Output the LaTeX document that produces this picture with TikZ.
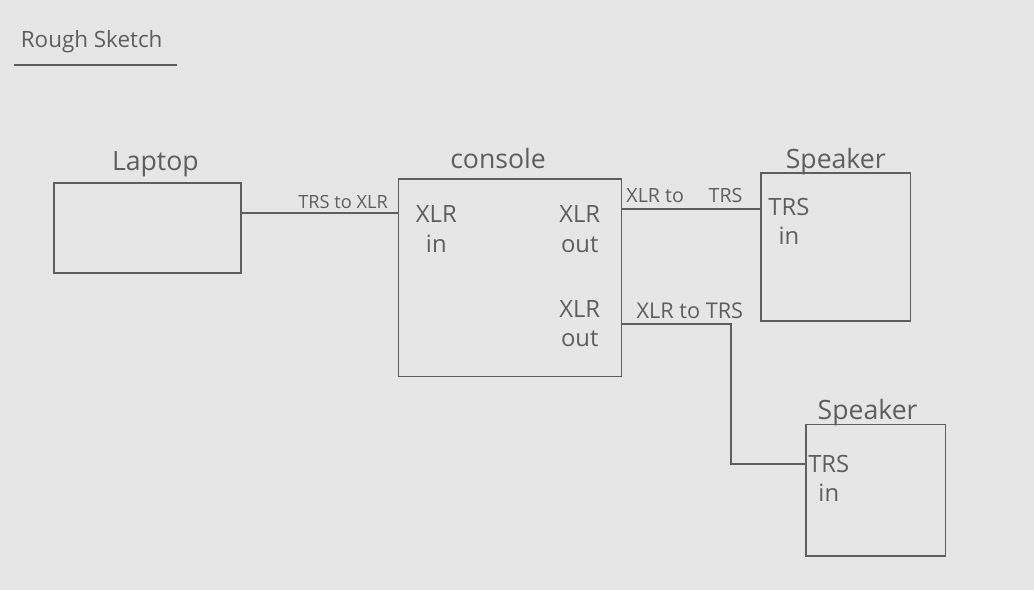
\documentclass[tikz,border=0pt]{standalone}
\usepackage{fontspec}
\setmainfont{Open Sans}
\usepackage{tikz}
\usetikzlibrary{positioning,calc}
\definecolor{paper}{HTML}{E6E6E6}
\definecolor{ink}{HTML}{5E5E5E}
\tikzset{
  device/.style = {draw=ink, line width=1.2pt, inner sep=0pt},
  wire/.style   = {draw=ink, line width=1.1pt},
  tag/.style    = {font=\fontsize{19}{22}\selectfont, text=ink, inner sep=1pt},
  port/.style   = {font=\fontsize{17}{21}\selectfont, text=ink, align=center, inner sep=1pt},
  cbl/.style    = {font=\fontsize{13}{15}\selectfont, text=ink, inner sep=1pt},
}

\begin{document}
\begin{tikzpicture}[x=0.025cm, y=-0.025cm]
  \fill[paper] (-2,-2) rectangle (1036,590);
  \useasboundingbox (0,0) rectangle (1034,588);
  % heading
  \node[tag, font=\fontsize{16}{19}\selectfont] (ttl) at (90,40) {Rough Sketch};
  \draw[wire] (12,63) -- (176,63);
  % devices
  \node[device, minimum width=4.7cm, minimum height=2.25cm] (laptop) at (146,227) {};
  \node[device, minimum width=5.6cm, minimum height=4.95cm] (console) at (510,277) {};
  \node[device, minimum width=3.75cm, minimum height=3.7cm] (spk1) at (837,246) {};
  \node[device, minimum width=3.5cm, minimum height=3.3cm] (spk2) at (877,490) {};
  \node[tag, above=1mm of laptop, xshift=2mm] (laptopname) {Laptop};
  \node[tag, above=2mm of console, xshift=-3mm] (consolename) {console};
  \node[tag, above=-1mm of spk1] (spk1name) {Speaker};
  \node[tag, above=-1mm of spk2, xshift=-2mm] (spk2name) {Speaker};
  % ports
  \node[port] (xlrin) at (436,228) {XLR\\in};
  \node[port] (xlrout1) at (580,228) {XLR\\out};
  \node[port] (xlrout2) at (580,323) {XLR\\out};
  \node[port] (trsin1) at (790,220) {TRS\\in};
  \node[port] (trsin2) at (830,478) {TRS\\in};
  % cable ends
  \coordinate (lapjack) at ([yshift=3.75mm]laptop.east);
  \coordinate (outjack1) at ([yshift=1.725cm]console.east);
  \coordinate (outjack2) at ([yshift=-1.15cm]console.east);
  \coordinate (spk2jack) at ([yshift=6.5mm]spk2.west);
  \coordinate (bend) at (732,323);
  % cables
  \draw[wire] (lapjack) -- (lapjack -| console.west)
    node[cbl, pos=0.65, above=2pt] (c1) {TRS to XLR};
  \draw[wire] (outjack1) -- (outjack1 -| spk1.west)
    node[cbl, pos=0.45, above=3pt, font=\fontsize{14}{16}\selectfont] (c2) {XLR to\quad\ TRS};
  \draw[wire] (outjack2) -- (bend |- outjack2)
    node[cbl, pos=0.62, above=2pt, font=\fontsize{15.5}{18}\selectfont] (c3) {XLR to TRS}
    -- (bend |- spk2jack) -- (spk2jack);
\end{tikzpicture}
\end{document}
